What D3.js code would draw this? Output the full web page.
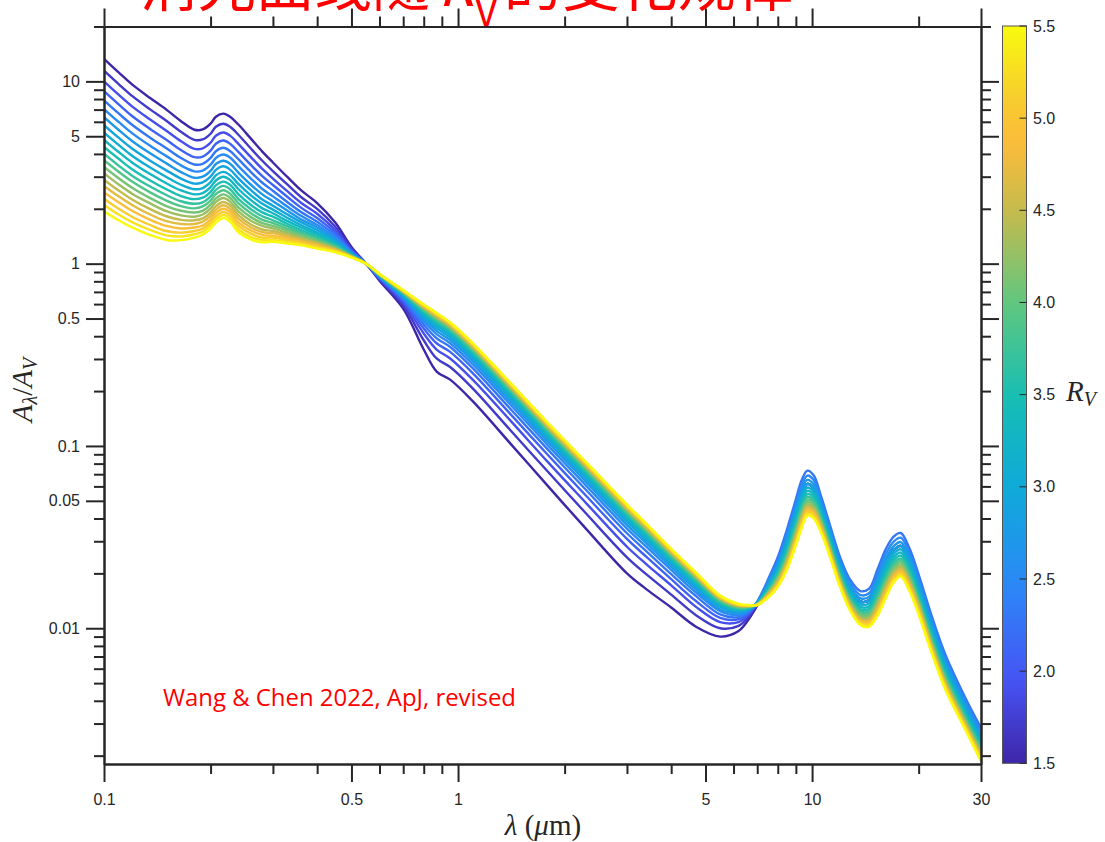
<!DOCTYPE html>
<html>
<head>
<meta charset="utf-8">
<script src="https://cdn.jsdelivr.net/npm/d3@7"></script>
<style>
body { margin: 0; background: #fff; }
</style>
</head>
<body>
<div id="chart"></div>
<script>
// wavelength grid (micron)
const wave = [0.1, 0.11, 0.12, 0.135, 0.15, 0.165, 0.18, 0.19, 0.2, 0.207, 0.2175, 0.227, 0.24, 0.26, 0.28, 0.3, 0.33, 0.36, 0.4, 0.45, 0.5, 0.55,
  0.6, 0.7, 0.8, 0.87, 0.95, 1.1, 1.4, 1.8, 2.3, 3.0, 3.4, 4.0, 4.7, 5.5, 6.2, 6.6,
  7.0, 7.6, 8.0, 8.5, 9.0, 9.35, 9.7, 10.1, 10.6, 11.2, 12.0, 12.8, 13.7, 14.5, 15.3, 16.2, 17.0, 17.8, 18.8, 20.0, 21.7, 23.8, 27.0, 30.0];

// one curve per R_V
const rvList = [1.5, 1.7, 1.9, 2.1, 2.3, 2.5, 2.7, 2.9, 3.1, 3.3, 3.5, 3.7, 3.9, 4.1, 4.3, 4.5, 4.7, 4.9, 5.1, 5.3, 5.5];

// A_lambda/A_V : one row per wavelength, one column per R_V
const extRows = [
  [13.3,11.46,10.01,8.84,7.87,7.05,6.36,5.76,5.23,4.78,4.37,4.01,3.69,3.39,3.13,2.88,2.67,2.46,2.27,2.10,1.94],
  [11.2,9.67,8.45,7.48,6.67,5.99,5.41,4.91,4.48,4.10,3.76,3.45,3.19,2.94,2.72,2.52,2.34,2.17,2.00,1.86,1.73],
  [9.62,8.32,7.29,6.46,5.78,5.20,4.71,4.28,3.91,3.59,3.30,3.04,2.82,2.61,2.42,2.25,2.10,1.95,1.81,1.69,1.58],
  [8.1,7.02,6.17,5.48,4.91,4.43,4.03,3.67,3.37,3.10,2.86,2.65,2.46,2.29,2.14,1.99,1.86,1.74,1.63,1.53,1.435],
  [7.0,6.08,5.36,4.78,4.30,3.89,3.55,3.25,2.99,2.76,2.56,2.38,2.22,2.07,1.94,1.82,1.71,1.61,1.51,1.43,1.349],
  [6.05,5.29,4.69,4.20,3.80,3.46,3.18,2.93,2.71,2.52,2.35,2.20,2.07,1.95,1.84,1.74,1.65,1.56,1.48,1.41,1.346],
  [5.43,4.78,4.26,3.84,3.50,3.21,2.96,2.75,2.56,2.40,2.26,2.13,2.01,1.91,1.81,1.73,1.65,1.58,1.51,1.45,1.39],
  [5.45,4.80,4.29,3.87,3.53,3.24,3.00,2.79,2.60,2.44,2.30,2.17,2.06,1.95,1.86,1.77,1.70,1.62,1.56,1.50,1.44],
  [5.86,5.16,4.61,4.17,3.80,3.49,3.23,3.00,2.80,2.63,2.48,2.34,2.22,2.11,2.01,1.91,1.83,1.75,1.68,1.62,1.556],
  [6.4,5.64,5.03,4.55,4.14,3.80,3.52,3.27,3.05,2.86,2.69,2.54,2.41,2.28,2.18,2.07,1.98,1.90,1.82,1.75,1.68],
  [6.65,5.86,5.24,4.74,4.32,3.97,3.67,3.42,3.19,3.00,2.82,2.67,2.53,2.40,2.29,2.18,2.09,2.00,1.92,1.85,1.78],
  [6.4,5.64,5.04,4.55,4.15,3.82,3.53,3.28,3.06,2.88,2.71,2.56,2.42,2.30,2.19,2.09,2.00,1.92,1.84,1.77,1.70],
  [5.78,5.08,4.53,4.09,3.73,3.42,3.15,2.93,2.73,2.56,2.40,2.26,2.14,2.03,1.93,1.84,1.76,1.68,1.61,1.54,1.48],
  [4.85,4.28,3.84,3.48,3.18,2.93,2.71,2.53,2.37,2.23,2.10,1.99,1.89,1.80,1.72,1.64,1.58,1.52,1.46,1.40,1.354],
  [4.12,3.67,3.31,3.02,2.78,2.57,2.40,2.25,2.13,2.01,1.91,1.82,1.74,1.67,1.61,1.54,1.49,1.44,1.39,1.35,1.31],
  [3.59,3.22,2.93,2.70,2.51,2.34,2.20,2.08,1.98,1.89,1.81,1.73,1.67,1.61,1.56,1.51,1.47,1.42,1.39,1.35,1.32],
  [2.98,2.71,2.49,2.32,2.17,2.05,1.95,1.86,1.78,1.71,1.65,1.60,1.55,1.51,1.47,1.43,1.40,1.37,1.34,1.31,1.29],
  [2.53,2.32,2.16,2.03,1.92,1.83,1.75,1.69,1.63,1.58,1.53,1.49,1.46,1.42,1.39,1.37,1.34,1.32,1.30,1.28,1.26],
  [2.15,2.00,1.88,1.78,1.70,1.63,1.58,1.53,1.48,1.45,1.41,1.38,1.36,1.33,1.31,1.29,1.27,1.25,1.24,1.22,1.21],
  [1.68,1.595,1.528,1.474,1.429,1.391,1.359,1.331,1.307,1.286,1.267,1.251,1.236,1.222,1.21,1.199,1.189,1.179,1.17,1.162,1.155],
  [1.235,1.21,1.19,1.174,1.161,1.15,1.14,1.132,1.125,1.119,1.113,1.108,1.104,1.10,1.096,1.093,1.09,1.087,1.084,1.082,1.08],
  [1,1,1,1,1,1,1,1,1,1,1,1,1,1,1,1,1,1,1,1,1],
  [0.807,0.819,0.828,0.835,0.841,0.847,0.851,0.855,0.858,0.861,0.864,0.866,0.868,0.870,0.871,0.873,0.874,0.876,0.877,0.878,0.879],
  [0.567,0.591,0.610,0.626,0.638,0.649,0.658,0.666,0.673,0.679,0.684,0.689,0.693,0.697,0.700,0.704,0.707,0.709,0.712,0.714,0.716],
  [0.338,0.380,0.414,0.441,0.463,0.482,0.498,0.511,0.523,0.534,0.543,0.552,0.559,0.566,0.572,0.577,0.582,0.587,0.591,0.595,0.599],
  [0.256,0.302,0.338,0.366,0.390,0.411,0.428,0.443,0.456,0.467,0.477,0.486,0.494,0.501,0.508,0.514,0.519,0.524,0.529,0.533,0.537],
  [0.231,0.271,0.302,0.328,0.349,0.366,0.381,0.394,0.406,0.416,0.424,0.432,0.439,0.446,0.451,0.457,0.461,0.466,0.470,0.474,0.477],
  [0.176,0.207,0.231,0.251,0.267,0.281,0.293,0.303,0.312,0.319,0.326,0.332,0.338,0.343,0.347,0.351,0.355,0.358,0.362,0.364,0.367],
  [0.104,0.123,0.139,0.151,0.161,0.170,0.177,0.184,0.189,0.194,0.198,0.202,0.206,0.209,0.211,0.214,0.216,0.219,0.221,0.222,0.224],
  [0.0598,0.0717,0.0810,0.0886,0.0948,0.1001,0.1045,0.1084,0.1118,0.1147,0.1173,0.1197,0.1217,0.1236,0.1253,0.1269,0.1283,0.1296,0.1309,0.1320,0.133],
  [0.0351,0.0426,0.0486,0.0533,0.0573,0.0606,0.0635,0.0659,0.0680,0.0699,0.0716,0.0731,0.0744,0.0756,0.0766,0.0777,0.0785,0.0794,0.0802,0.0809,0.0815],
  [0.0200,0.0245,0.0280,0.0309,0.0332,0.0352,0.0369,0.0384,0.0397,0.0408,0.0418,0.0427,0.0434,0.0442,0.0448,0.0454,0.0459,0.0464,0.0469,0.0473,0.0477],
  [0.0164,0.0198,0.0225,0.0247,0.0265,0.0280,0.0293,0.0304,0.0314,0.0322,0.0330,0.0337,0.0343,0.0348,0.0353,0.0358,0.0362,0.0365,0.0369,0.0372,0.0375],
  [0.0130,0.0153,0.0172,0.0186,0.0198,0.0209,0.0217,0.0225,0.0232,0.0237,0.0242,0.0247,0.0251,0.0255,0.0258,0.0261,0.0264,0.0266,0.0269,0.0271,0.0273],
  [0.0102,0.0118,0.0131,0.0141,0.0150,0.0157,0.0163,0.0168,0.0173,0.0177,0.0181,0.0184,0.0187,0.0189,0.0192,0.0194,0.0196,0.0197,0.0199,0.0201,0.0202],
  [0.0090,0.0100,0.0108,0.0114,0.0119,0.0124,0.0127,0.0131,0.0133,0.0136,0.0138,0.0140,0.0142,0.0143,0.0145,0.0146,0.0147,0.0148,0.0149,0.0150,0.0151],
  [0.00966,0.0103,0.0108,0.0112,0.0115,0.0118,0.0121,0.0123,0.0125,0.0126,0.0128,0.0129,0.0130,0.0131,0.0132,0.0133,0.0134,0.0134,0.0135,0.0135,0.0136],
  [0.0111,0.0115,0.0118,0.0120,0.0122,0.0124,0.0125,0.0126,0.0127,0.0128,0.0129,0.0130,0.0131,0.0131,0.0132,0.0132,0.0133,0.0133,0.0133,0.0134,0.0134],
  [0.0133,0.0135,0.0137,0.0138,0.0140,0.0139,0.0138,0.0138,0.0137,0.0137,0.0136,0.0136,0.0136,0.0135,0.0135,0.0135,0.0135,0.0135,0.0134,0.0134,0.0134],
  [0.0179,0.0179,0.0179,0.0179,0.0195,0.0189,0.0184,0.0179,0.0175,0.0172,0.0169,0.0166,0.0163,0.0161,0.0159,0.0157,0.0156,0.0154,0.0153,0.0151,0.0150],
  [0.0218,0.0218,0.0218,0.0218,0.0245,0.0234,0.0225,0.0218,0.0211,0.0205,0.0200,0.0195,0.0191,0.0187,0.0184,0.0180,0.0177,0.0175,0.0172,0.0170,0.0168],
  [0.0300,0.0300,0.0300,0.0300,0.0350,0.0331,0.0314,0.0300,0.0288,0.0277,0.0268,0.0259,0.0251,0.0244,0.0238,0.0232,0.0227,0.0222,0.0218,0.0214,0.0210],
  [0.0430,0.0430,0.0430,0.0430,0.0510,0.0479,0.0453,0.0430,0.0410,0.0393,0.0377,0.0364,0.0351,0.0340,0.0330,0.0321,0.0313,0.0305,0.0298,0.0291,0.0285],
  [0.0545,0.0545,0.0545,0.0545,0.0650,0.0609,0.0575,0.0545,0.0519,0.0496,0.0476,0.0458,0.0442,0.0427,0.0414,0.0402,0.0391,0.0381,0.0372,0.0363,0.0355],
  [0.0619,0.0619,0.0619,0.0619,0.0732,0.0688,0.0651,0.0619,0.0591,0.0567,0.0545,0.0526,0.0508,0.0493,0.0479,0.0466,0.0454,0.0443,0.0433,0.0424,0.0415],
  [0.0587,0.0587,0.0587,0.0587,0.0690,0.0650,0.0616,0.0587,0.0561,0.0539,0.0519,0.0501,0.0486,0.0471,0.0458,0.0446,0.0436,0.0426,0.0416,0.0408,0.0400],
  [0.0461,0.0461,0.0461,0.0461,0.0530,0.0503,0.0480,0.0461,0.0444,0.0428,0.0415,0.0403,0.0393,0.0383,0.0374,0.0366,0.0359,0.0352,0.0346,0.0340,0.0335],
  [0.0331,0.0331,0.0331,0.0331,0.0375,0.0358,0.0343,0.0331,0.0320,0.0310,0.0301,0.0294,0.0287,0.0281,0.0275,0.0270,0.0265,0.0261,0.0257,0.0253,0.0250],
  [0.0218,0.0218,0.0218,0.0218,0.0245,0.0234,0.0225,0.0218,0.0211,0.0205,0.0200,0.0195,0.0191,0.0187,0.0184,0.0180,0.0177,0.0175,0.0172,0.0170,0.0168],
  [0.0164,0.0164,0.0164,0.0164,0.0185,0.0177,0.0170,0.0164,0.0158,0.0154,0.0150,0.0146,0.0143,0.0140,0.0137,0.0135,0.0132,0.0130,0.0128,0.0127,0.0125],
  [0.0140,0.0140,0.0140,0.0140,0.0160,0.0152,0.0146,0.0140,0.0135,0.0131,0.0127,0.0124,0.0121,0.0118,0.0115,0.0113,0.0111,0.0109,0.0107,0.0106,0.0104],
  [0.0143,0.0143,0.0143,0.0143,0.0165,0.0156,0.0149,0.0143,0.0137,0.0132,0.0128,0.0124,0.0121,0.0118,0.0115,0.0112,0.0110,0.0108,0.0106,0.0104,0.0102],
  [0.0177,0.0177,0.0177,0.0177,0.0210,0.0197,0.0186,0.0177,0.0169,0.0162,0.0155,0.0150,0.0144,0.0140,0.0136,0.0132,0.0128,0.0125,0.0122,0.0120,0.0117],
  [0.0230,0.0230,0.0230,0.0230,0.0275,0.0258,0.0243,0.0230,0.0219,0.0209,0.0200,0.0192,0.0186,0.0179,0.0174,0.0168,0.0164,0.0159,0.0155,0.0152,0.0148],
  [0.0268,0.0268,0.0268,0.0268,0.0318,0.0299,0.0282,0.0268,0.0256,0.0245,0.0236,0.0227,0.0219,0.0212,0.0206,0.0200,0.0195,0.0190,0.0186,0.0182,0.0178],
  [0.0283,0.0283,0.0283,0.0283,0.0333,0.0314,0.0297,0.0283,0.0271,0.0260,0.0250,0.0241,0.0234,0.0227,0.0220,0.0215,0.0209,0.0204,0.0200,0.0196,0.0192],
  [0.0236,0.0236,0.0236,0.0236,0.0277,0.0261,0.0248,0.0236,0.0226,0.0217,0.0209,0.0202,0.0195,0.0190,0.0184,0.0180,0.0175,0.0171,0.0168,0.0164,0.0161],
  [0.0169,0.0169,0.0169,0.0169,0.0197,0.0186,0.0177,0.0169,0.0162,0.0156,0.0151,0.0146,0.0142,0.0138,0.0135,0.0132,0.0129,0.0126,0.0123,0.0121,0.0119],
  [0.01031,0.01031,0.01031,0.01031,0.0119,0.01129,0.01076,0.01031,0.00992,0.00958,0.00927,0.009,0.00876,0.00853,0.00834,0.00815,0.00799,0.00783,0.00769,0.00756,0.00744],
  [0.00625,0.00625,0.00625,0.00625,0.00716,0.00681,0.00651,0.00625,0.00602,0.00583,0.00565,0.0055,0.00535,0.00523,0.00511,0.00501,0.00491,0.00483,0.00474,0.00467,0.0046],
  [0.00371,0.00371,0.00371,0.00371,0.00421,0.00402,0.00385,0.00371,0.00359,0.00348,0.00338,0.0033,0.00322,0.00315,0.00309,0.00303,0.00298,0.00293,0.00289,0.00285,0.00281],
  [0.00249,0.00249,0.00249,0.00249,0.00284,0.00271,0.00259,0.00249,0.00241,0.00233,0.00226,0.0022,0.00215,0.0021,0.00206,0.00202,0.00198,0.00195,0.00192,0.00189,0.00186]
];

// tick labels
const xMajor = [0.1, 0.5, 1, 5, 10, 30];
const xMinor = [0.2, 0.3, 0.4, 0.6, 0.7, 0.8, 0.9, 2, 3, 4, 6, 7, 8, 9, 20];
const yMajor = [0.01, 0.05, 0.1, 0.5, 1, 5, 10];
const yMinor = [0.002, 0.003, 0.004, 0.005, 0.006, 0.007, 0.008, 0.009, 0.02, 0.03, 0.04, 0.06, 0.07, 0.08, 0.09,
  0.2, 0.3, 0.4, 0.6, 0.7, 0.8, 0.9, 2, 3, 4, 6, 7, 8, 9, 20];
const cbTicks = [1.5, 2.0, 2.5, 3.0, 3.5, 4.0, 4.5, 5.0, 5.5];

// parula colour map stops
const parulaPos = [0, 0.111, 0.238, 0.365, 0.49, 0.62, 0.746, 0.84, 0.905, 1];
const parulaCols = ["#3e26a8", "#4753f3", "#2c87f7", "#10a8db", "#14bdb6", "#5dc781", "#c3bb4e", "#fcbb3b", "#f7ce2e", "#f9fb0e"];

const W = 1105, H = 842;
const axColor = "#262626";
const tickFont = "16px 'Liberation Sans', Arial, sans-serif";
const mathFont = "'Liberation Serif', 'DejaVu Serif', serif";

const svg = d3.select("#chart").append("svg")
    .attr("width", W)
    .attr("height", H)
    .style("background", "#fff");

const x = d3.scaleLog().domain([0.1, 30]).range([104, 981]);
const y = d3.scaleLog().domain([0.0018, 20]).range([764, 26.5]);
const color = d3.scaleLinear().domain(parulaPos.map(p => 1.5 + 4 * p)).range(parulaCols);

// red title at the very top, cut off by the page edge as in the original
const title = svg.append("text")
    .attr("x", 140).attr("y", 6)
    .attr("fill", "#ff0000")
    .style("font", "58px 'Noto Sans CJK SC', sans-serif");
title.append("tspan").text("消光曲线随");
title.append("tspan").attr("font-style", "italic").attr("dx", 8).text("R");
title.append("tspan").attr("font-size", "40px").attr("dy", 20).text("V");
title.append("tspan").attr("dy", -20).attr("dx", 6).text("的变化规律");

// clip for the curves
svg.append("clipPath").attr("id", "plotclip")
  .append("rect")
    .attr("x", 104).attr("y", 26.5)
    .attr("width", 877).attr("height", 737.5);

const series = rvList.map((rv, k) => ({ rv: rv, pts: wave.map((w, i) => [w, extRows[i][k]]) }));

const line = d3.line()
    .x(d => x(d[0]))
    .y(d => y(d[1]))
    .curve(d3.curveCatmullRom.alpha(0.5));

svg.append("g").attr("clip-path", "url(#plotclip)")
  .selectAll("path")
  .data(series)
  .enter().append("path")
    .attr("d", d => line(d.pts))
    .attr("fill", "none")
    .attr("stroke", d => color(d.rv))
    .attr("stroke-width", 2.4)
    .attr("stroke-linejoin", "round");

// axes, ticks outwards on all four sides
function styleAxis(g) {
  g.selectAll("path, line").attr("stroke", axColor).attr("stroke-width", 2);
  g.selectAll("text").attr("fill", axColor).style("font", tickFont);
}
function addAxis(axisFn, scale, pos, vals, size, labels) {
  const a = axisFn(scale).tickValues(vals).tickSize(size).tickSizeOuter(0)
      .tickFormat(labels ? (d => String(d)) : "");
  if (axisFn === d3.axisBottom || axisFn === d3.axisTop) a.tickPadding(12); else a.tickPadding(6);
  const g = svg.append("g").attr("transform", pos).call(a);
  styleAxis(g);
  return g;
}
addAxis(d3.axisBottom, x, "translate(0,764)", xMinor, 10, false);
addAxis(d3.axisBottom, x, "translate(0,764)", xMajor, 18, true);
addAxis(d3.axisTop, x, "translate(0,26.5)", xMinor, 10, false);
addAxis(d3.axisTop, x, "translate(0,26.5)", xMajor, 18, false);
addAxis(d3.axisLeft, y, "translate(104,0)", yMinor, 10, false);
addAxis(d3.axisLeft, y, "translate(104,0)", yMajor, 18, true);
addAxis(d3.axisRight, y, "translate(981,0)", yMinor, 10, false);
addAxis(d3.axisRight, y, "translate(981,0)", yMajor, 18, false);

// axis titles
const yLab = svg.append("text")
    .attr("transform", "translate(32,390) rotate(-90)")
    .attr("text-anchor", "middle")
    .attr("fill", axColor)
    .style("font", "29px " + mathFont);
yLab.append("tspan").attr("font-style", "italic").text("A");
yLab.append("tspan").attr("font-style", "italic").attr("font-size", "20px").attr("dy", 5).text("λ");
yLab.append("tspan").attr("dy", -5).text("/");
yLab.append("tspan").attr("font-style", "italic").text("A");
yLab.append("tspan").attr("font-style", "italic").attr("font-size", "20px").attr("dy", 5).text("V");

const xLab = svg.append("text")
    .attr("x", 543).attr("y", 835)
    .attr("text-anchor", "middle")
    .attr("fill", axColor)
    .style("font", "29px " + mathFont);
xLab.append("tspan").attr("font-style", "italic").text("λ");
xLab.append("tspan").text(" (");
xLab.append("tspan").attr("font-style", "italic").text("μ");
xLab.append("tspan").text("m)");

// annotation
svg.append("text")
    .attr("x", 163).attr("y", 706)
    .attr("fill", "#ff0000")
    .attr("textLength", 353)
    .attr("lengthAdjust", "spacingAndGlyphs")
    .style("font", "23px 'Open Sans', 'Liberation Sans', sans-serif")
    .text("Wang & Chen 2022, ApJ, revised");

// colour bar
const cb = d3.scaleLinear().domain([1.5, 5.5]).range([763.3, 26]);
const grad = svg.append("defs").append("linearGradient")
    .attr("id", "cbgrad").attr("x1", 0).attr("y1", 1).attr("x2", 0).attr("y2", 0);
d3.range(0, 41).forEach(i => {
  grad.append("stop").attr("offset", i / 40).attr("stop-color", color(1.5 + 4 * i / 40));
});
svg.append("rect")
    .attr("x", 1002.5).attr("y", 26)
    .attr("width", 24).attr("height", 737.3)
    .attr("fill", "url(#cbgrad)")
    .attr("stroke", "#555").attr("stroke-width", 1);
const cbg = svg.append("g");
cbg.selectAll("line").data(cbTicks).enter().append("line")
    .attr("x1", 1019.5).attr("x2", 1026.5)
    .attr("y1", d => cb(d)).attr("y2", d => cb(d))
    .attr("stroke", axColor).attr("stroke-width", 1);
cbg.selectAll("text").data(cbTicks).enter().append("text")
    .attr("x", 1033).attr("y", d => cb(d))
    .attr("dy", "0.35em")
    .attr("fill", axColor)
    .style("font", tickFont)
    .text(d => d3.format(".1f")(d));

const rvLab = svg.append("text")
    .attr("x", 1066).attr("y", 401)
    .attr("fill", axColor)
    .style("font", "29px " + mathFont);
rvLab.append("tspan").attr("font-style", "italic").text("R");
rvLab.append("tspan").attr("font-style", "italic").attr("font-size", "20px").attr("dy", 5).text("V");
</script>
</body>
</html>
